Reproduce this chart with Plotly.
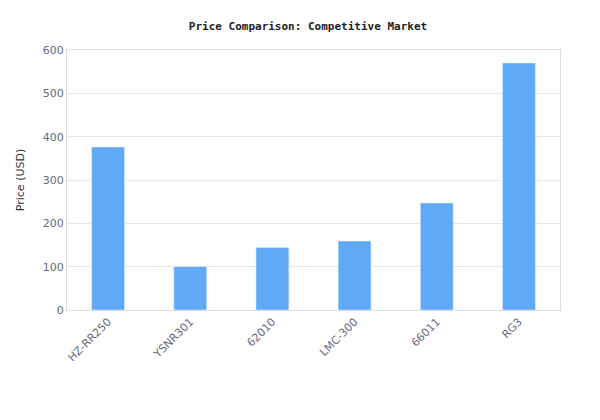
import plotly.graph_objects as go

models = ["HZ-RR250", "YSNR301", "62010", "LMC-300", "66011", "RG3"]
prices = [376, 100, 144, 159, 247, 570]

fig = go.Figure(go.Bar(x=models, y=prices, marker_color="#60a9f6", width=0.4))
fig.update_layout(
    width=600, height=420,
    margin=dict(l=52, r=48, t=42, b=118),
    paper_bgcolor="white", plot_bgcolor="white",
    title=dict(text="<b>Price Comparison: Competitive Market</b>", x=0.5, y=0.965,
               font=dict(family="DejaVu Sans Mono", size=11, color="#222")),
    font=dict(family="DejaVu Sans", size=11, color="#666a80"),
    showlegend=False,
)
fig.update_xaxes(tickangle=-45, showline=True, linecolor="#dddddd", mirror=True,
                 ticks="", tickfont=dict(size=11, color="#666a80"))
fig.update_yaxes(range=[0, 600], dtick=100, gridcolor="#e6e6e6", showline=True,
                 linecolor="#dddddd", mirror=True, zeroline=False,
                 title=dict(text="Price (USD)", font=dict(size=11, color="#333")),
                 tickfont=dict(size=11, color="#666a80"))
fig.write_html("out.html")
